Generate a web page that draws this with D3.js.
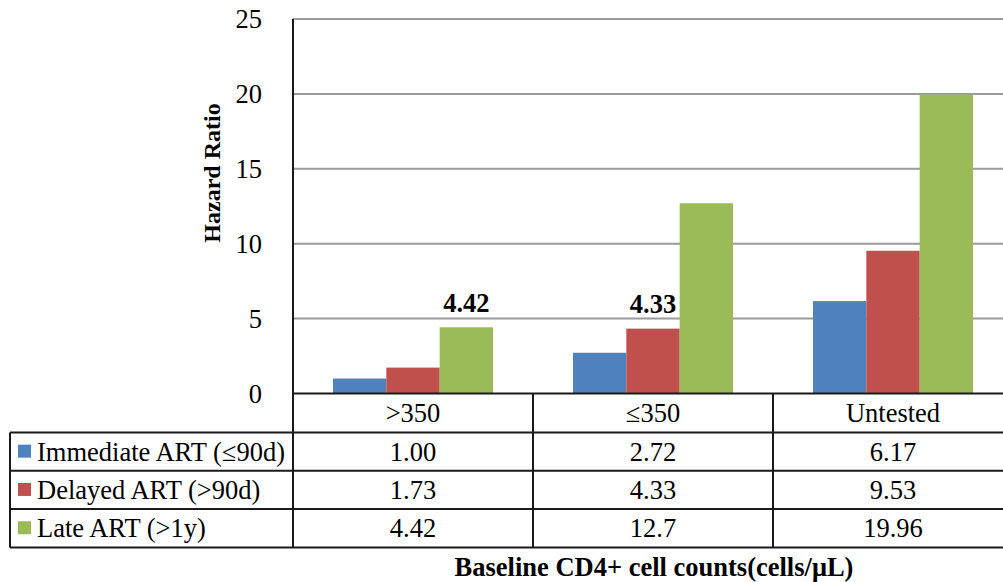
<!DOCTYPE html>
<html>
<head>
<meta charset="utf-8">
<script src="https://cdn.jsdelivr.net/npm/d3@7"></script>
<style>
  html, body { margin: 0; padding: 0; background: #fff; }
  svg { display: block; }
  svg text { font-family: "Liberation Serif", "Times New Roman", Times, serif !important; fill: #000; }
</style>
</head>
<body>
<svg id="chart" width="1003" height="582" font-family="Liberation Serif, Times New Roman, serif"></svg>
<script>
// Hazard ratios by baseline CD4+ count and ART timing
const categories = [">350", "\u2264350", "Untested"];
const seriesNames = ["Immediate ART (\u226490d)", "Delayed ART (>90d)", "Late ART (>1y)"];
const immediate = [1.00, 2.72, 6.17];
const delayed = [1.73, 4.33, 9.53];
const late = [4.42, 12.7, 19.96];
const tableText = [["1.00", "2.72", "6.17"], ["1.73", "4.33", "9.53"], ["4.42", "12.7", "19.96"]];
const yTicks = [0, 5, 10, 15, 20, 25];
const colors = ["#4F81BD", "#C0504D", "#9BBB59"];
// highlighted values written above the bars: [category index, series index]
const callouts = [[0, 2], [1, 1]];

const values = [immediate, delayed, late];
const FONT = "Liberation Serif, Times New Roman, serif";
const FS = 26.5;

const svg = d3.select("#chart");
const plotLeft = 293, plotRight = 1013, plotTop = 19, plotBottom = 393.5;
const tableLeft = 10;
const rowH = 38.3;
const catRowBottom = 432.5;

const x0 = d3.scaleBand().domain(categories).range([plotLeft, plotRight]).paddingInner(0).paddingOuter(0);
const x1 = d3.scaleBand().domain(d3.range(seriesNames.length)).range([40, x0.bandwidth() - 40]).padding(0);
const y = d3.scaleLinear().domain([0, 25]).range([plotBottom, plotTop]);

// gridlines
svg.append("g").selectAll("line").data(yTicks.filter(t => t > 0)).join("line")
  .attr("x1", plotLeft).attr("x2", 1003)
  .attr("y1", d => y(d)).attr("y2", d => y(d))
  .attr("stroke", "#9a9a9a").attr("stroke-width", 2);

// y tick labels
const yAxis = d3.axisLeft(y).tickValues(yTicks).tickSize(0).tickPadding(0).tickFormat(d3.format("d"));
const ga = svg.append("g").attr("transform", `translate(262,0)`).call(yAxis)
  .attr("font-family", FONT).attr("font-size", FS);
ga.select(".domain").remove();
ga.selectAll("text").attr("font-family", FONT).attr("font-size", FS).attr("fill", "#000").attr("dy", "0.33em");

// bars
const groups = svg.append("g").selectAll("g").data(categories).join("g")
  .attr("transform", d => `translate(${x0(d)},0)`);
groups.selectAll("rect").data((d, ci) => values.map((s, si) => ({ si, v: s[ci] }))).join("rect")
  .attr("x", d => x1(d.si)).attr("width", x1.bandwidth())
  .attr("y", d => y(d.v)).attr("height", d => y(0) - y(d.v))
  .attr("fill", d => colors[d.si]);

// value callouts
svg.append("g").selectAll("text").data(callouts).join("text")
  .attr("x", d => x0(categories[d[0]]) + x1(d[1]) + x1.bandwidth() / 2)
  .attr("y", d => y(values[d[1]][d[0]]) - 15.5)
  .attr("text-anchor", "middle").attr("font-family", FONT).attr("font-size", FS).attr("font-weight", "bold")
  .text(d => tableText[d[1]][d[0]]);

// data table grid
const lines = svg.append("g").attr("stroke", "#1a1a1a").attr("stroke-width", 2);
lines.append("line").attr("x1", plotLeft).attr("x2", 1003).attr("y1", plotBottom).attr("y2", plotBottom);
const rowLines = [catRowBottom, catRowBottom + rowH, catRowBottom + 2 * rowH, catRowBottom + 3 * rowH];
rowLines.forEach(ry => lines.append("line").attr("x1", tableLeft).attr("x2", 1003).attr("y1", ry).attr("y2", ry));
lines.append("line").attr("x1", plotLeft).attr("x2", plotLeft).attr("y1", plotTop).attr("y2", rowLines[3]);
lines.append("line").attr("x1", tableLeft).attr("x2", tableLeft).attr("y1", catRowBottom).attr("y2", rowLines[3]);
categories.slice(1).forEach(c => lines.append("line").attr("x1", x0(c)).attr("x2", x0(c)).attr("y1", plotBottom).attr("y2", rowLines[3]));

// category labels
svg.append("g").selectAll("text").data(categories).join("text")
  .attr("x", d => x0(d) + x0.bandwidth() / 2).attr("y", (plotBottom + catRowBottom) / 2 + 9)
  .attr("text-anchor", "middle").attr("font-family", FONT).attr("font-size", FS).text(d => d);

// series rows: legend key, name, values
seriesNames.forEach((name, si) => {
  const top = catRowBottom + si * rowH;
  const cy = top + rowH / 2;
  svg.append("rect").attr("x", 18).attr("y", cy - 7).attr("width", 13).attr("height", 13).attr("fill", colors[si]);
  svg.append("text").attr("x", 37).attr("y", cy + 9).attr("font-family", FONT).attr("font-size", FS).text(name);
  svg.append("g").selectAll("text").data(categories).join("text")
    .attr("x", d => x0(d) + x0.bandwidth() / 2).attr("y", cy + 9)
    .attr("text-anchor", "middle").attr("font-family", FONT).attr("font-size", FS)
    .text((d, ci) => tableText[si][ci]);
});

// axis titles
svg.append("text").attr("transform", `translate(220,173) rotate(-90)`)
  .attr("text-anchor", "middle").attr("font-family", FONT).attr("font-size", 24).attr("font-weight", "bold").text("Hazard Ratio");
svg.append("text").attr("x", 654).attr("y", 576)
  .attr("text-anchor", "middle").attr("font-family", FONT).attr("font-size", FS).attr("font-weight", "bold")
  .text("Baseline CD4+ cell counts(cells/\u03bcL)");
</script>
</body>
</html>
